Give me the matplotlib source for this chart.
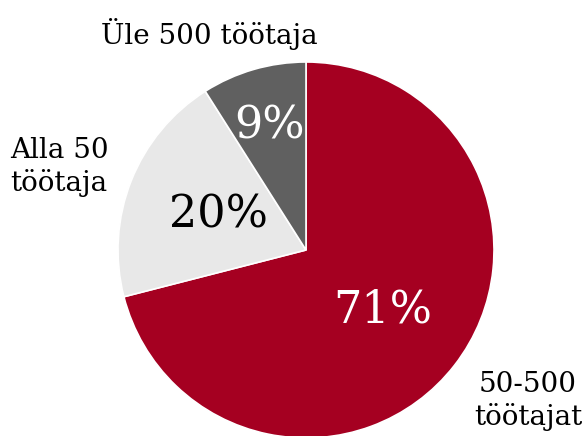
import numpy as np
import matplotlib
matplotlib.use("Agg")
import matplotlib.pyplot as plt

# data
labels = ["50-500\ntöötajat", "Alla 50\ntöötaja", "Üle 500 töötaja"]
shares = [71, 20, 9]
colors = ["#A50021", "#E8E8E8", "#606060"]
pct_colors = ["white", "black", "white"]

plt.rcParams["font.family"] = ["DejaVu Serif"]

fig = plt.figure(figsize=(5.87, 4.36), dpi=100)
W, H = 587, 436
cx, cy, R = 306, 250, 188
ax = fig.add_axes([(cx - R) / W, (H - cy - R) / H, 2 * R / W, 2 * R / H])

wedges, _, autotexts = ax.pie(shares, colors=colors, startangle=90, counterclock=False,
                              autopct="%d%%", radius=1,
                              wedgeprops=dict(edgecolor="white", linewidth=1.2))
ax.set_xlim(-1, 1); ax.set_ylim(-1, 1)
ax.set_aspect("equal")

# percent labels, pulled in per slice
pct_r = [0.52, 0.50, 0.69]
for w, t, r, c in zip(wedges, autotexts, pct_r, pct_colors):
    a = np.deg2rad((w.theta1 + w.theta2) / 2)
    t.set_position((r * np.cos(a), r * np.sin(a)))
    t.set_color(c); t.set_fontsize(32)

# outer category labels (pixel positions)
def px(x, y):
    return x / W, 1 - y / H

fig.text(*px(528, 401), labels[0], ha="center", va="center", fontsize=20, linespacing=1.25)
fig.text(*px(10, 167), labels[1], ha="left", va="center", fontsize=20, linespacing=1.25)
fig.text(*px(209, 34), labels[2], ha="center", va="center", fontsize=20)

fig.savefig("out.png", dpi=100)
